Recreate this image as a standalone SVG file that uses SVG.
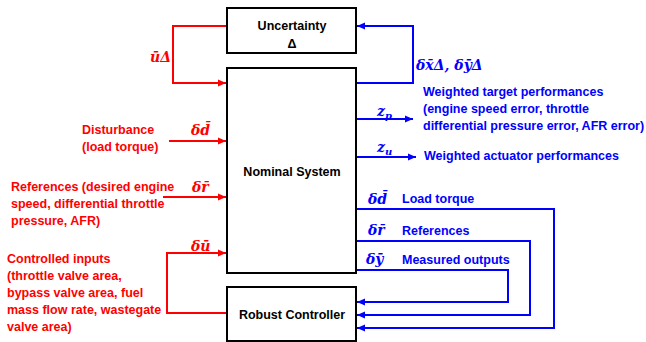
<svg xmlns="http://www.w3.org/2000/svg" width="646" height="342" viewBox="0 0 646 342">
<defs>
<style>
.box{fill:#fff;stroke:#000;stroke-width:2}
.r{fill:none;stroke:#f00;stroke-width:2}
.b{fill:none;stroke:#0000ff;stroke-width:2}
.t{font-family:"Liberation Sans",Arial,sans-serif;font-weight:bold;font-size:12.5px}
.k{fill:#000}
.rt{fill:#f00}
.bt{fill:#0000ff}
.m{font-family:"DejaVu Serif","Liberation Serif",serif;font-weight:bold;font-style:italic;font-size:14px}
</style>
<marker id="ar" markerUnits="userSpaceOnUse" markerWidth="9" markerHeight="9" refX="8" refY="4.5" orient="auto"><path d="M0,1 L8,4.5 L0,8 z" fill="#f00"/></marker>
<marker id="ab" markerUnits="userSpaceOnUse" markerWidth="9" markerHeight="9" refX="8" refY="4.5" orient="auto"><path d="M0,1 L8,4.5 L0,8 z" fill="#0000ff"/></marker>
</defs>
<rect width="646" height="342" fill="#fff"/>
<g id="connectors">
<path class="r" d="M227,26 H173 V83 H226" marker-end="url(#ar)"/>
<path class="r" d="M169,141 H226" marker-end="url(#ar)"/>
<path class="r" d="M163,197 H226" marker-end="url(#ar)"/>
<path class="r" d="M227,313 H167 V253 H226" marker-end="url(#ar)"/>
<path class="b" d="M356,83 H413 V26 H357" marker-end="url(#ab)"/>
<path class="b" d="M356,119 H413" marker-end="url(#ab)"/>
<path class="b" d="M356,157 H416" marker-end="url(#ab)"/>
<path class="b" d="M356,209 H554 V328 H357" marker-end="url(#ab)"/>
<path class="b" d="M356,241 H530 V315 H357" marker-end="url(#ab)"/>
<path class="b" d="M356,270 H508 V302 H357" marker-end="url(#ab)"/>
</g>
<g id="uncertainty">
<rect class="box" x="227" y="8" width="129" height="45"/>
<text class="t k" x="292" y="30" text-anchor="middle">Uncertainty</text>
<text class="t k" x="292" y="48" text-anchor="middle">Δ</text>
</g>
<g id="nominal">
<rect class="box" x="227" y="68" width="129" height="205"/>
<text class="t k" x="292" y="176" text-anchor="middle">Nominal System</text>
</g>
<g id="controller">
<rect class="box" x="227" y="287" width="129" height="54"/>
<text class="t k" x="292" y="319" text-anchor="middle">Robust Controller</text>
</g>
<g id="labels">
<text class="m rt" x="150" y="62">ūΔ</text>
<text class="m bt" x="416" y="70">δx̄Δ, δȳΔ</text>
<text class="m rt" x="191" y="135">δd̄</text>
<text class="m rt" x="192" y="192">δr̄</text>
<text class="m rt" x="191" y="251">δū</text>
<text class="m bt" x="377" y="116">z<tspan font-size="10" dy="3">p</tspan></text>
<text class="m bt" x="377" y="152">z<tspan font-size="10" dy="3">u</tspan></text>
<text class="m bt" x="368" y="204">δd̄</text>
<text class="m bt" x="368" y="235">δr̄</text>
<text class="m bt" x="366" y="264">δȳ</text>
<text class="t rt" x="82" y="134">Disturbance</text>
<text class="t rt" x="82" y="151">(load torque)</text>
<text class="t rt" x="11" y="191">References (desired engine</text>
<text class="t rt" x="11" y="208">speed, differential throttle</text>
<text class="t rt" x="11" y="225">pressure, AFR)</text>
<text class="t rt" x="7" y="263">Controlled inputs</text>
<text class="t rt" x="7" y="280">(throttle valve area,</text>
<text class="t rt" x="7" y="297">bypass valve area, fuel</text>
<text class="t rt" x="7" y="314">mass flow rate, wastegate</text>
<text class="t rt" x="7" y="331">valve area)</text>
<text class="t bt" x="423" y="96">Weighted target performances</text>
<text class="t bt" x="423" y="113">(engine speed error, throttle</text>
<text class="t bt" x="423" y="130">differential pressure error, AFR error)</text>
<text class="t bt" x="424" y="160">Weighted actuator performances</text>
<text class="t bt" x="402" y="203">Load torque</text>
<text class="t bt" x="402" y="235">References</text>
<text class="t bt" x="402" y="264">Measured outputs</text>
</g>
</svg>
